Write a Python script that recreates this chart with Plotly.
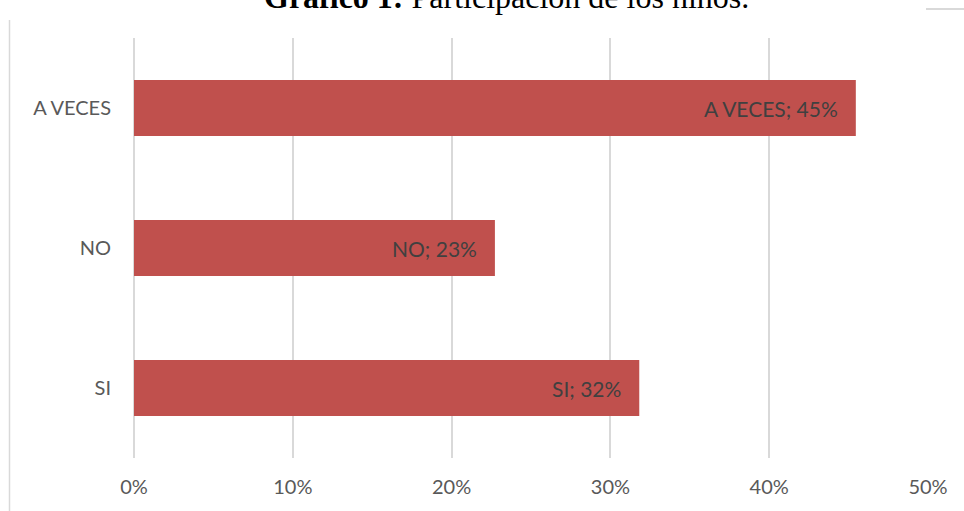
import plotly.graph_objects as go

# Survey answers: share of responses per option
categories = ["SI", "NO", "A VECES"]
shares = [7 / 22, 5 / 22, 10 / 22]
x_ticks = [0, 0.1, 0.2, 0.3, 0.4, 0.5]
x_tick_labels = ["0%", "10%", "20%", "30%", "40%", "50%"]

W, H = 964, 511
ML, MR, MT, MB = 134, 36, 38, 53
PW, PH = W - ML - MR, H - MT - MB

BAR_RED = "#C0504D"
GRID = "#D9D9D9"
FONT = "Lato"


def px_x(px):
    return (px - ML) / PW


def px_y(py):
    return 1 - (py - MT) / PH


fig = go.Figure(
    go.Bar(
        x=shares,
        y=categories,
        orientation="h",
        marker=dict(color=BAR_RED, line=dict(width=0)),
        hoverinfo="skip",
    )
)

# value labels at the inner end of each bar
for cat, v in zip(categories, shares):
    fig.add_annotation(
        x=v, y=cat, xref="x", yref="y",
        text=f"{cat}; {round(v * 100)}%",
        showarrow=False, xanchor="right", yanchor="middle", xshift=-16,
        font=dict(family=FONT, size=21, color="#404040"),
    )

# title (partly cut off at the top edge)
fig.add_annotation(
    x=px_x(506), y=px_y(-3), xref="paper", yref="paper",
    text="<b>Gráfico 1:</b> Participación de los niños.",
    showarrow=False, xanchor="center", yanchor="middle",
    font=dict(family="Liberation Serif", size=32, color="#000000"),
)

# chart frame fragments
fig.add_shape(type="line", xref="paper", yref="paper",
              x0=px_x(9.5), x1=px_x(9.5), y0=px_y(20), y1=px_y(515),
              line=dict(color=GRID, width=1.5))
fig.add_shape(type="line", xref="paper", yref="paper",
              x0=px_x(926), x1=px_x(968), y0=px_y(9), y1=px_y(9),
              line=dict(color=GRID, width=2))

fig.update_layout(
    width=W, height=H,
    margin=dict(l=ML, r=MR, t=MT, b=MB, pad=0),
    paper_bgcolor="white", plot_bgcolor="white",
    bargap=0.6,
    showlegend=False,
    xaxis=dict(
        range=[0, 0.5], tickvals=x_ticks, ticktext=x_tick_labels,
        showgrid=True, gridcolor=GRID, gridwidth=1.5,
        zeroline=True, zerolinecolor=GRID, zerolinewidth=1.5,
        showline=False, ticks="", ticklabelstandoff=15, automargin=False,
        tickfont=dict(family=FONT, size=20, color="#595959"),
        fixedrange=True,
    ),
    yaxis=dict(
        categoryorder="array", categoryarray=categories,
        showgrid=False, zeroline=False, showline=False, ticks="",
        ticklabelstandoff=22, automargin=False,
        tickfont=dict(family=FONT, size=20, color="#595959"),
        fixedrange=True,
    ),
)

fig.write_html("out.html")
